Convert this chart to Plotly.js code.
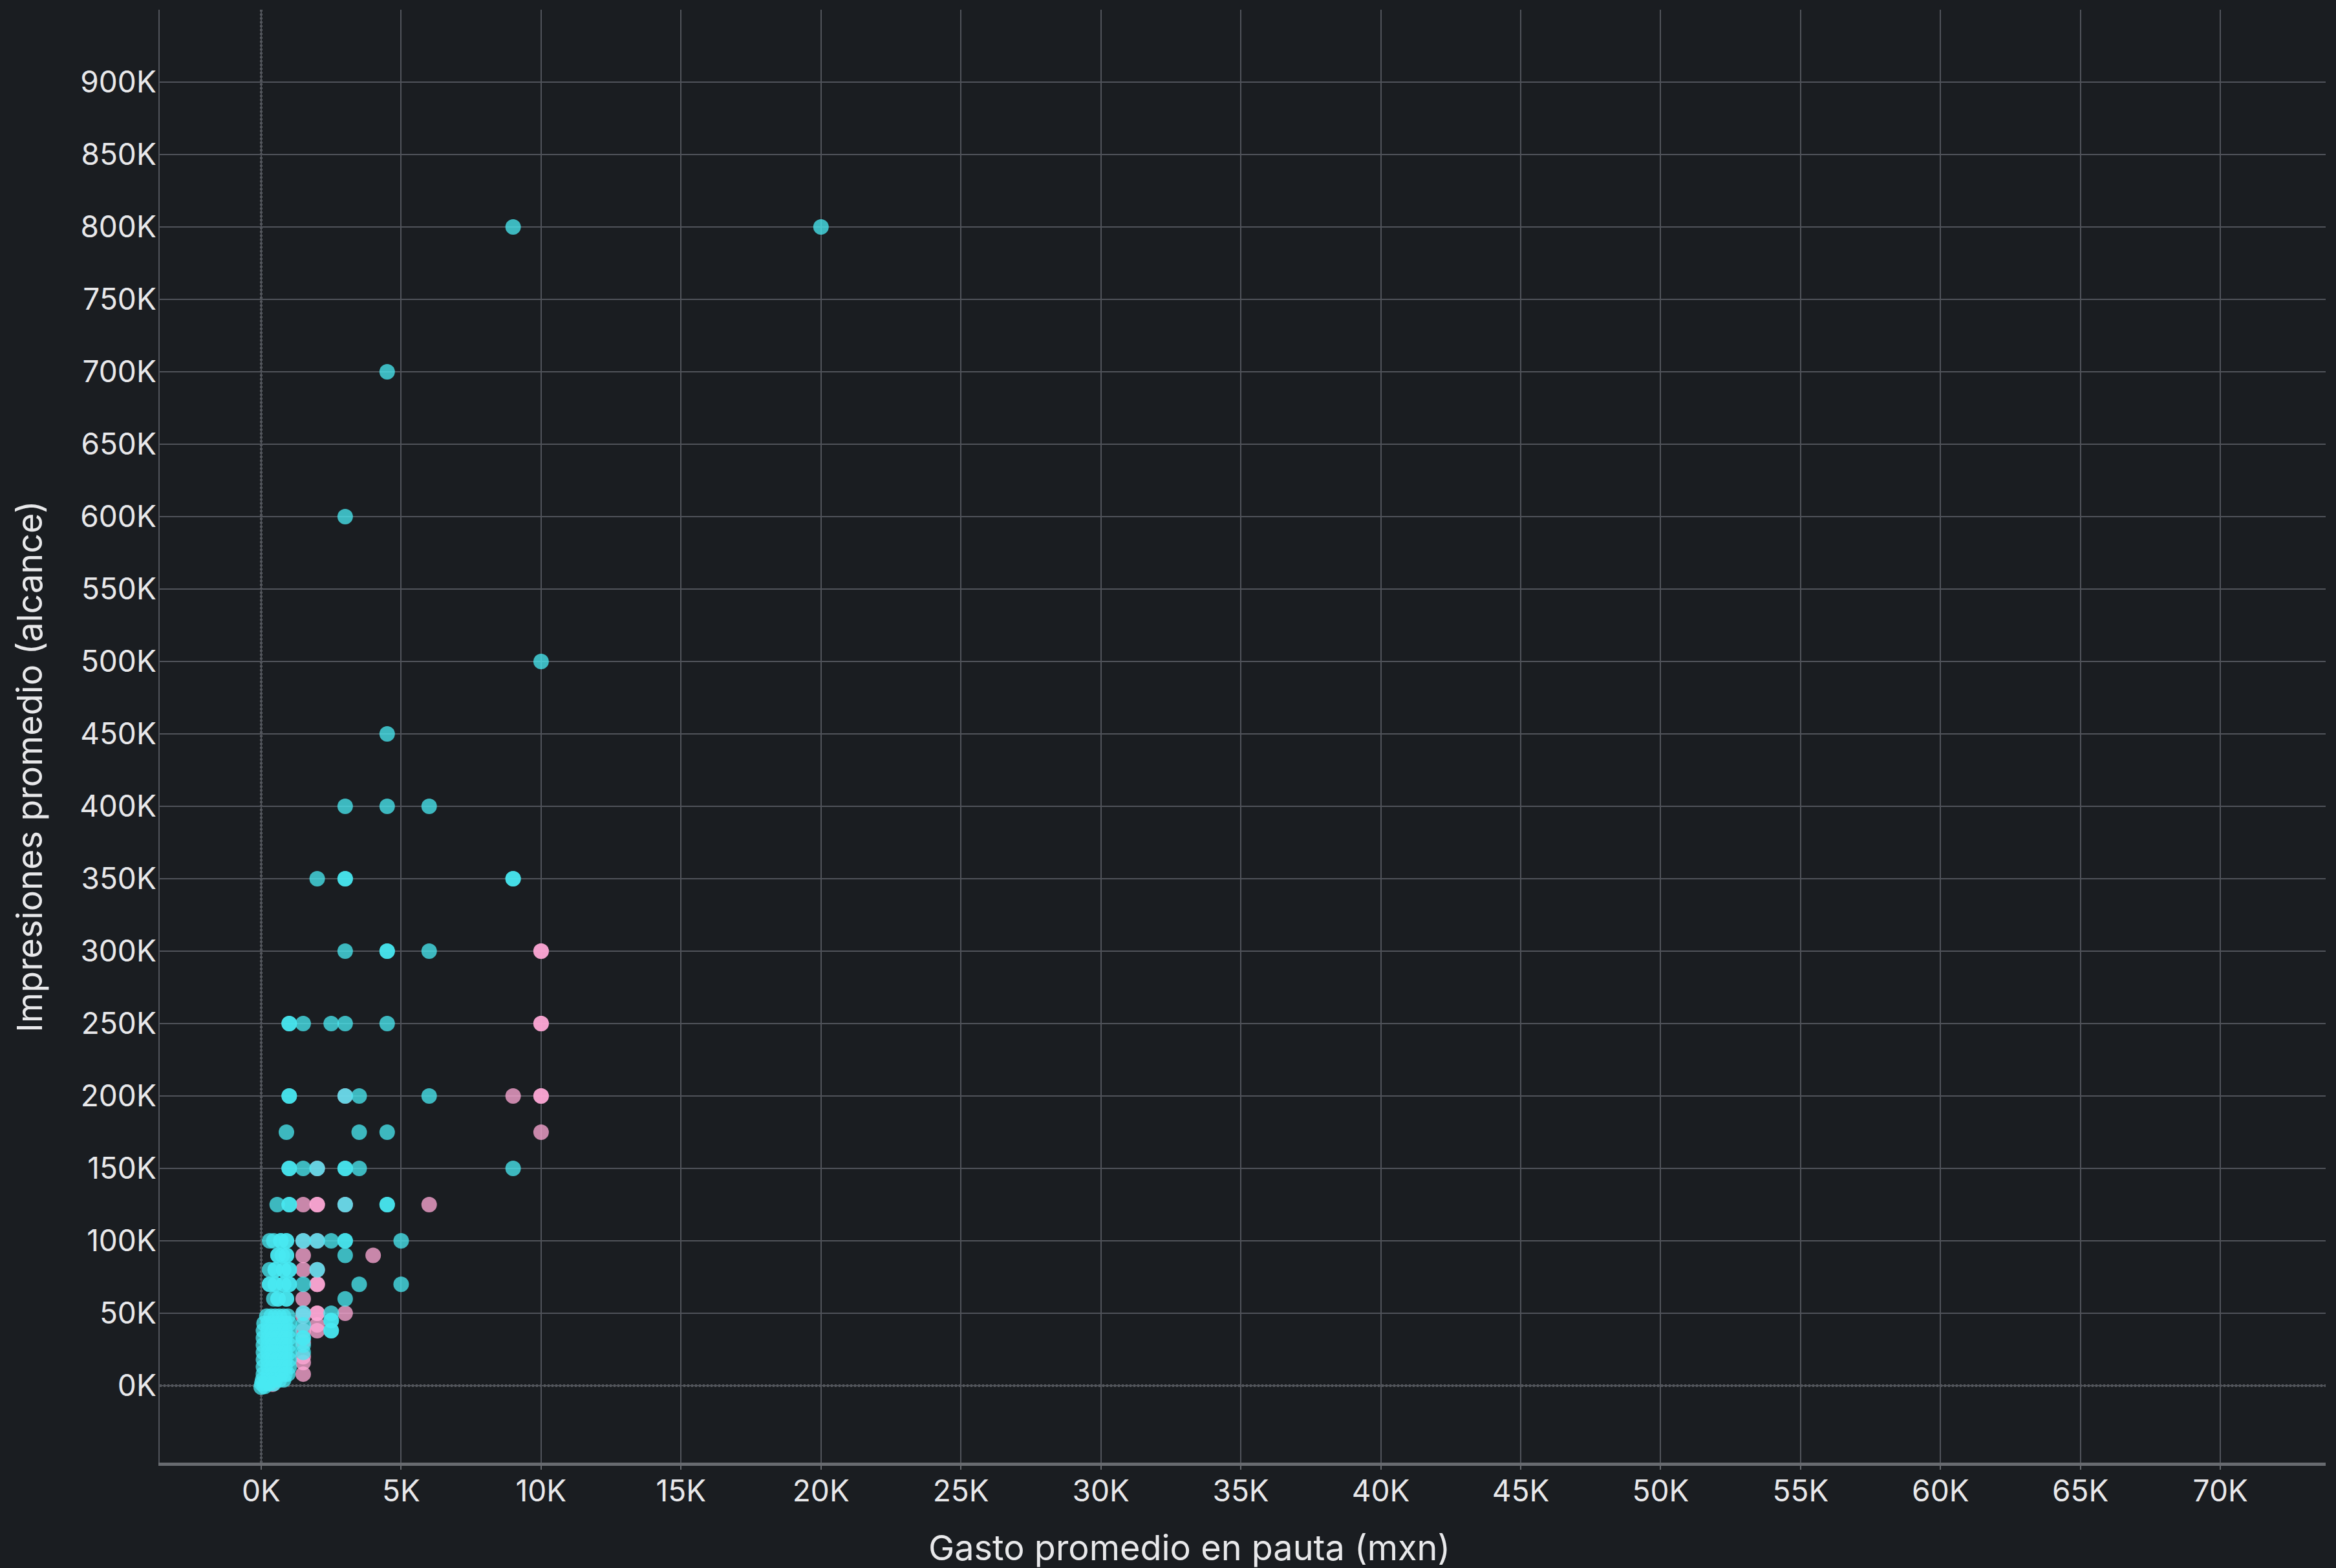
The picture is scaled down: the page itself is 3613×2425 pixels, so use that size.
<!DOCTYPE html>
<html>
<head>
<meta charset="utf-8">
<script src="https://cdn.plot.ly/plotly-3.0.1.min.js"></script>
<style>html,body{margin:0;padding:0;background:#1a1d21;}</style>
</head>
<body>
<div id="chart" style="width:3613px;height:2425px;"></div>
<script>
// ---- Data (x = gasto promedio en pauta, y = impresiones promedio) ----
// Series A (cyan)
const cyanX = [
  9000, 20000,
  4500,
  3000,
  10000,
  4500,
  3000, 4500, 6000,
  2000, 3000, 3000, 9000, 9000,
  3000, 4500, 4500, 6000,
  1000, 1000, 1500, 2500, 3000, 4500,
  1000, 1000, 3000, 3500, 6000,
  900, 3500, 4500,
  1000, 1000, 1500, 2000, 3000, 3000, 3500, 9000,
  570, 1000, 1000, 3000, 4500, 4500,
  300, 450, 700, 700, 900, 900, 1500, 2000, 2500, 3000, 3000, 5000,
  600, 600, 750, 900, 900, 3000,
  300, 500, 500, 800, 800, 1000, 1000, 2000,
  300, 300, 500, 500, 800, 800, 1000, 1000, 1500, 3500, 5000,
  450, 600, 600, 900, 900, 3000,
  1500, 2500,
  2500, 2500,
  2500, 2500,
  1500, 1500, 1500, 1500, 1500,
  200, 350, 500, 650, 800, 950,
  100, 250, 400, 550, 700, 850, 1000,
  80, 250, 400, 550, 700, 850, 1000,
  80, 250, 400, 550, 700, 850, 1000,
  80, 250, 400, 550, 700, 850, 1000,
  80, 250, 400, 550, 700, 850, 1000,
  80, 250, 400, 550, 700, 850, 1000,
  80, 250, 400, 550, 700, 850, 1000,
  80, 250, 400, 550, 700, 850, 950,
  50, 200, 350, 500, 650, 800,
  20, 150, 300, 450,
  0, 120
];
const cyanY = [
  800000, 800000,
  700000,
  600000,
  500000,
  450000,
  400000, 400000, 400000,
  350000, 350000, 350000, 350000, 350000,
  300000, 300000, 300000, 300000,
  250000, 250000, 250000, 250000, 250000, 250000,
  200000, 200000, 200000, 200000, 200000,
  175000, 175000, 175000,
  150000, 150000, 150000, 150000, 150000, 150000, 150000, 150000,
  125000, 125000, 125000, 125000, 125000, 125000,
  100000, 100000, 100000, 100000, 100000, 100000, 100000, 100000, 100000, 100000, 100000, 100000,
  90000, 90000, 90000, 90000, 90000, 90000,
  80000, 80000, 80000, 80000, 80000, 80000, 80000, 80000,
  70000, 70000, 70000, 70000, 70000, 70000, 70000, 70000, 70000, 70000, 70000,
  60000, 60000, 60000, 60000, 60000, 60000,
  50000, 50000,
  45000, 45000,
  38000, 38000,
  42000, 33000, 33000, 28000, 23000,
  48000, 48000, 48000, 48000, 48000, 48000,
  43000, 43000, 43000, 43000, 43000, 43000, 43000,
  38000, 38000, 38000, 38000, 38000, 38000, 38000,
  33000, 33000, 33000, 33000, 33000, 33000, 33000,
  28000, 28000, 28000, 28000, 28000, 28000, 28000,
  23000, 23000, 23000, 23000, 23000, 23000, 23000,
  18000, 18000, 18000, 18000, 18000, 18000, 18000,
  13000, 13000, 13000, 13000, 13000, 13000, 13000,
  8000, 8000, 8000, 8000, 8000, 8000, 8000,
  4000, 4000, 4000, 4000, 4000, 4000,
  1500, 1500, 1500, 1500,
  -1000, -500
];
// Series B (pink)
const pinkX = [
  10000, 10000,
  10000, 10000,
  3000, 9000, 10000, 10000,
  10000,
  2000,
  1500, 2000, 2000, 3000, 6000,
  1500, 2000,
  1500, 4000,
  1500, 2000,
  2000, 2000,
  1500,
  1500, 2000, 2000, 3000,
  2000, 2000,
  1500, 1500, 1500, 1500, 1500, 1500,
  400, 300
];
const pinkY = [
  300000, 300000,
  250000, 250000,
  200000, 200000, 200000, 200000,
  175000,
  150000,
  125000, 125000, 125000, 125000, 125000,
  100000, 100000,
  90000, 90000,
  80000, 80000,
  70000, 70000,
  60000,
  50000, 50000, 50000, 50000,
  42000, 38000,
  48000, 38000, 30000, 20000, 16000, 8000,
  1000, 2000
];

const xTickVals = [0, 5000, 10000, 15000, 20000, 25000, 30000, 35000, 40000, 45000, 50000, 55000, 60000, 65000, 70000];
const xTickText = ["0K", "5K", "10K", "15K", "20K", "25K", "30K", "35K", "40K", "45K", "50K", "55K", "60K", "65K", "70K"];
const yTickVals = [0, 50000, 100000, 150000, 200000, 250000, 300000, 350000, 400000, 450000, 500000, 550000, 600000, 650000, 700000, 750000, 800000, 850000, 900000];
const yTickText = ["0K", "50K", "100K", "150K", "200K", "250K", "300K", "350K", "400K", "450K", "500K", "550K", "600K", "650K", "700K", "750K", "800K", "850K", "900K"];

const xTitle = "Gasto promedio en pauta (mxn)";
const yTitle = "Impresiones promedio (alcance)";

const BG = "#1a1d21";
const GRID = "#50535a";
const TXT = "#e8e8ea";
const FONT = "Inter, Roboto, sans-serif";

const markerBase = {size: 24, opacity: 0.76, line: {width: 0}};

const traces = [
  {type: "scatter", mode: "markers", x: pinkX, y: pinkY, name: "B",
   marker: Object.assign({}, markerBase, {color: "#ffa8d6"}), hoverinfo: "x+y"},
  {type: "scatter", mode: "markers", x: cyanX, y: cyanY, name: "A",
   marker: Object.assign({}, markerBase, {color: "#48e8f2"}), hoverinfo: "x+y"}
];

const layout = {
  width: 3613, height: 2425,
  paper_bgcolor: BG, plot_bgcolor: BG,
  showlegend: false,
  margin: {l: 247, r: 16, t: 15, b: 163, pad: 0},
  font: {family: FONT, color: TXT, size: 46},
  xaxis: {
    range: [-3627, 73760],
    tickvals: xTickVals, ticktext: xTickText,
    showgrid: true, gridcolor: GRID, gridwidth: 2,
    zeroline: false,
    showline: true, linecolor: "#686b70", linewidth: 5,
    ticks: "outside", ticklen: 6, tickwidth: 2, tickcolor: "#686b70",
    ticklabelstandoff: -6,
    tickfont: {family: FONT, size: 46, color: TXT},
    automargin: false
  },
  yaxis: {
    range: [-53100, 950000],
    tickvals: yTickVals, ticktext: yTickText,
    showgrid: true, gridcolor: GRID, gridwidth: 2,
    zeroline: false,
    showline: true, linecolor: GRID, linewidth: 2,
    ticks: "", ticklabelstandoff: -6,
    tickfont: {family: FONT, size: 46, color: TXT},
    automargin: false
  },
  annotations: [
    {text: xTitle, xref: "paper", yref: "paper", x: 0.4755, y: -0.0583,
     xanchor: "center", yanchor: "middle", showarrow: false,
     font: {family: FONT, size: 54, color: TXT}},
    {text: yTitle, xref: "paper", yref: "paper", x: -0.0600, y: 0.4790,
     xanchor: "center", yanchor: "middle", textangle: -90, showarrow: false,
     font: {family: FONT, size: 54, color: TXT}}
  ],
  shapes: [
    {type: "line", xref: "x", yref: "paper", x0: 0, x1: 0, y0: 0, y1: 1,
     line: {color: "#9a9da2", width: 3, dash: "dot"}, layer: "between"},
    {type: "line", xref: "paper", yref: "y", x0: 0, x1: 1, y0: 0, y1: 0,
     line: {color: "#9a9da2", width: 3, dash: "dot"}, layer: "between"}
  ]
};

Plotly.newPlot("chart", traces, layout, {displayModeBar: false, staticPlot: true});
</script>
</body>
</html>
